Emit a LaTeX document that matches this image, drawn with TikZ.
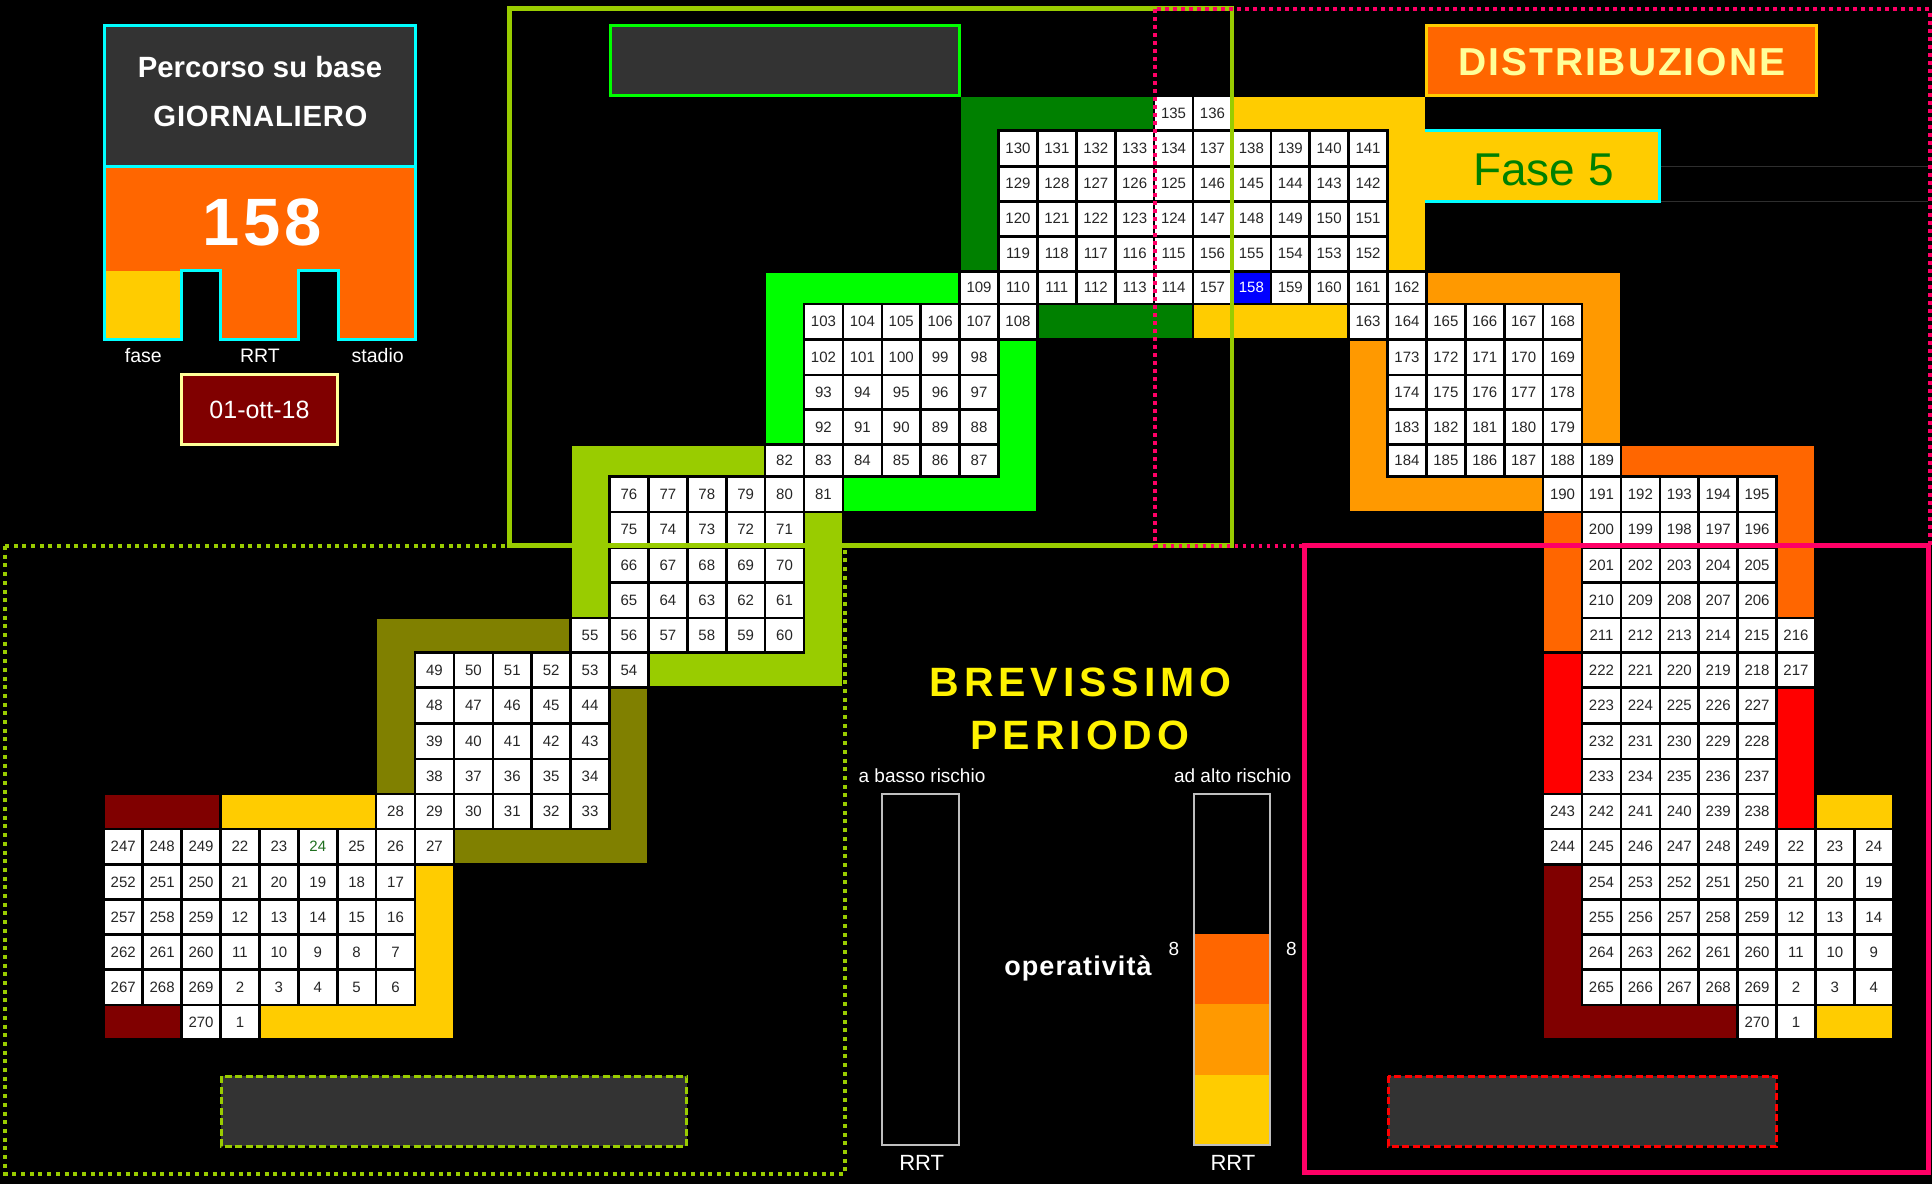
\documentclass[tikz,border=0pt]{standalone}
\usepackage{fontspec}
\setmainfont{Liberation Sans}
\definecolor{cOlive}{HTML}{808000}
\definecolor{cYgreen}{HTML}{99CC00}
\definecolor{cBgreen}{HTML}{00FF00}
\definecolor{cDgreen}{HTML}{008000}
\definecolor{cGold}{HTML}{FFCC00}
\definecolor{cOrng}{HTML}{FF9900}
\definecolor{cDorng}{HTML}{FF6600}
\definecolor{cRed}{HTML}{FF0000}
\definecolor{cDred}{HTML}{800000}
\definecolor{cPink}{HTML}{FF0066}
\definecolor{cDgray}{HTML}{333333}
\definecolor{cCelltxt}{HTML}{262626}
\definecolor{cLyellow}{HTML}{FFFF99}
\definecolor{cBargray}{HTML}{BFBFBF}
\definecolor{cCyan}{HTML}{00FFFF}
\definecolor{cGreenTxt}{HTML}{1F6F1F}
\definecolor{cLine}{HTML}{2E2E2E}
\def\rowarr{{95.8,130.2,166.2,201.2,236.2,271.2,303.8,339.5,374.8,409.5,444.5,476.5,511.8,547.5,582.5,617.8,652.5,687.5,723.5,759,794,829,864.2,899.5,934.5,969.5,1004.8,1039.5}}
\newcommand\gridcell[4]{%
  \pgfmathsetmacro\gxl{103.8+38.9*#1}%
  \pgfmathtruncatemacro\grn{#2+1}%
  \pgfmathsetmacro\gyt{\rowarr[#2]}%
  \pgfmathsetmacro\gyb{\rowarr[\grn]}%
  \pgfmathsetmacro\gxc{\gxl+19.45}%
  \pgfmathsetmacro\gyc{(\gyt+\gyb)/2}%
  \pgfmathsetmacro\ghh{\gyb-\gyt-2.6}%
  \node[cellbox,minimum height=\ghh pt,#4] (n-#1-#2) at (\gxc,\gyc) {#3};%
}
\newcommand\cellrow[3]{%
  \foreach \lab [count=\k from 0] in {#3} {%
    \pgfmathtruncatemacro\ci{#2+\k}%
    \gridcell{\ci}{#1}{\lab}{}%
  }%
}
\newcommand\band[5]{%
  \pgfmathsetmacro\bxa{103.8+38.9*#1+1.3}%
  \pgfmathsetmacro\bxb{103.8+38.9*(#3+1)-1.3}%
  \pgfmathtruncatemacro\brb{#4+1}%
  \pgfmathsetmacro\bya{\rowarr[#2]+1.3}%
  \pgfmathsetmacro\byb{\rowarr[\brb]-1.3}%
  \fill[#5] (\bxa,\bya) rectangle (\bxb,\byb);%
}
\begin{document}
\begin{tikzpicture}[x=1pt,y=-1pt,
  cellbox/.style={fill=white,inner sep=0pt,minimum width=36.3pt,text=cCelltxt,font=\fontsize{15}{15}\selectfont},
  lbl/.style={anchor=base,text=white,inner sep=0pt},
  bar/.style={draw=cBargray,line width=2.6pt},
  dashbox/.style={fill=cDgray,line width=3pt,dash pattern=on 7pt off 3.5pt},
  cyanline/.style={draw=cCyan,line width=3pt}]
\useasboundingbox (0,0) rectangle (1932,1184);
\fill[black] (0,0) rectangle (1932,1184);

% ---------- coloured bands ----------
% olive
\band{7}{15}{11}{15}{cOlive}\band{7}{15}{7}{19}{cOlive}
\band{13}{17}{13}{21}{cOlive}\band{9}{21}{13}{21}{cOlive}
% yellow-green
\band{12}{10}{16}{10}{cYgreen}\band{12}{10}{12}{14}{cYgreen}
\band{18}{12}{18}{16}{cYgreen}\band{14}{16}{18}{16}{cYgreen}
% bright green
\band{17}{5}{21}{5}{cBgreen}\band{17}{5}{17}{9}{cBgreen}
\band{23}{7}{23}{11}{cBgreen}\band{19}{11}{23}{11}{cBgreen}
% dark green
\band{22}{0}{26}{0}{cDgreen}\band{22}{0}{22}{4}{cDgreen}
\band{24}{6}{27}{6}{cDgreen}
% yellow
\band{29}{0}{33}{0}{cGold}\band{33}{0}{33}{4}{cGold}
\band{28}{6}{31}{6}{cGold}
% orange
\band{34}{5}{38}{5}{cOrng}\band{38}{5}{38}{9}{cOrng}
\band{32}{7}{32}{11}{cOrng}\band{32}{11}{36}{11}{cOrng}
% dark orange
\band{39}{10}{43}{10}{cDorng}\band{43}{10}{43}{14}{cDorng}
\band{37}{12}{37}{15}{cDorng}
% red
\band{37}{16}{37}{19}{cRed}\band{43}{17}{43}{20}{cRed}
% dark red
\band{37}{22}{37}{26}{cDred}\band{37}{26}{41}{26}{cDred}
\band{0}{20}{2}{20}{cDred}\band{0}{26}{1}{26}{cDred}
% yellow (1-27)
\band{3}{20}{6}{20}{cGold}\band{8}{22}{8}{26}{cGold}\band{4}{26}{8}{26}{cGold}
\band{44}{20}{45}{20}{cGold}\band{44}{26}{45}{26}{cGold}

% ---------- numbered cells ----------
\cellrow{0}{27}{135,136}
\cellrow{1}{23}{130,131,132,133,134,137,138,139,140,141}
\cellrow{2}{23}{129,128,127,126,125,146,145,144,143,142}
\cellrow{3}{23}{120,121,122,123,124,147,148,149,150,151}
\cellrow{4}{23}{119,118,117,116,115,156,155,154,153,152}
\cellrow{5}{22}{109,110,111,112,113,114,157}
\gridcell{29}{5}{158}{fill=blue,text=white}
\cellrow{5}{30}{159,160,161,162}
\cellrow{6}{18}{103,104,105,106,107,108}
\cellrow{6}{32}{163,164,165,166,167,168}
\cellrow{7}{18}{102,101,100,99,98}
\cellrow{7}{33}{173,172,171,170,169}
\cellrow{8}{18}{93,94,95,96,97}
\cellrow{8}{33}{174,175,176,177,178}
\cellrow{9}{18}{92,91,90,89,88}
\cellrow{9}{33}{183,182,181,180,179}
\cellrow{10}{17}{82,83,84,85,86,87}
\cellrow{10}{33}{184,185,186,187,188,189}
\cellrow{11}{13}{76,77,78,79,80,81}
\cellrow{11}{37}{190,191,192,193,194,195}
\cellrow{12}{13}{75,74,73,72,71}
\cellrow{12}{38}{200,199,198,197,196}
\cellrow{13}{13}{66,67,68,69,70}
\cellrow{13}{38}{201,202,203,204,205}
\cellrow{14}{13}{65,64,63,62,61}
\cellrow{14}{38}{210,209,208,207,206}
\cellrow{15}{12}{55,56,57,58,59,60}
\cellrow{15}{38}{211,212,213,214,215,216}
\cellrow{16}{8}{49,50,51,52,53,54}
\cellrow{16}{38}{222,221,220,219,218,217}
\cellrow{17}{8}{48,47,46,45,44}
\cellrow{17}{38}{223,224,225,226,227}
\cellrow{18}{8}{39,40,41,42,43}
\cellrow{18}{38}{232,231,230,229,228}
\cellrow{19}{8}{38,37,36,35,34}
\cellrow{19}{38}{233,234,235,236,237}
\cellrow{20}{7}{28,29,30,31,32,33}
\cellrow{20}{37}{243,242,241,240,239,238}
\cellrow{21}{0}{247,248,249,22,23}
\gridcell{5}{21}{24}{text=cGreenTxt}
\cellrow{21}{6}{25,26,27}
\cellrow{21}{37}{244,245,246,247,248,249,22,23,24}
\cellrow{22}{0}{252,251,250,21,20,19,18,17}
\cellrow{22}{38}{254,253,252,251,250,21,20,19}
\cellrow{23}{0}{257,258,259,12,13,14,15,16}
\cellrow{23}{38}{255,256,257,258,259,12,13,14}
\cellrow{24}{0}{262,261,260,11,10,9,8,7}
\cellrow{24}{38}{264,263,262,261,260,11,10,9}
\cellrow{25}{0}{267,268,269,2,3,4,5,6}
\cellrow{25}{38}{265,266,267,268,269,2,3,4}
\cellrow{26}{2}{270,1}
\cellrow{26}{42}{270,1}

% ---------- info box (top left) ----------
\fill[cDgray] (104.7,25.3) rectangle (415.5,166.3);
\fill[cDorng] (104.7,166.3) -- (415.5,166.3) -- (415.5,339) -- (338,339) -- (338,270.7) -- (298,270.7) -- (298,339) -- (220.7,339) -- (220.7,270.7) -- (181.3,270.7) -- (181.3,339) -- (104.7,339) -- cycle;
\fill[cGold] (104.7,270.7) rectangle (181.3,339);
\draw[cyanline] (104.7,25.3) -- (415.5,25.3) -- (415.5,339) -- (338,339) -- (338,270.7) -- (298,270.7) -- (298,339) -- (220.7,339) -- (220.7,270.7) -- (181.3,270.7) -- (181.3,339) -- (104.7,339) -- cycle;
\draw[cyanline] (104.7,166.3) -- (415.5,166.3);
\node[lbl,font={\fontsize{29.3}{30}\selectfont\bfseries}] (t-perc) at (260,77.3) {Percorso su base};
\node[lbl,font={\fontsize{29.3}{30}\selectfont\bfseries\addfontfeature{LetterSpace=2.5}}] (t-gior) at (260.5,126) {GIORNALIERO};
\node[lbl,font={\fontsize{67}{67}\selectfont\bfseries\addfontfeature{LetterSpace=6}}] (t-158) at (262,245) {158};
\node[lbl,font=\fontsize{19.5}{20}\selectfont] (t-fase) at (143.3,362.7) {fase};
\node[lbl,font=\fontsize{19.5}{20}\selectfont] (t-rrt) at (260,362.7) {RRT};
\node[lbl,font=\fontsize{19.5}{20}\selectfont] (t-stadio) at (377.7,362.7) {stadio};
\draw[draw=cLyellow,fill=cDred,line width=3pt] (181.7,374.7) rectangle (337.3,444.7);
\node[lbl,font=\fontsize{25}{26}\selectfont] (t-date) at (259.5,418.3) {01-ott-18};

% ---------- top boxes ----------
\draw[draw=cBgreen,fill=cDgray,line width=3pt] (610,25.3) rectangle (959.7,95.5);
\draw[draw=cGold,fill=cDorng,line width=3pt] (1426,25.3) rectangle (1816,95.5);
\node[lbl,text=cLyellow,font={\fontsize{39}{40}\selectfont\bfseries\addfontfeature{LetterSpace=5}}] (t-distr) at (1621.8,75) {DISTRIBUZIONE};
\fill[cGold] (1424.5,130.3) rectangle (1659.5,201.3);
\draw[cyanline] (1424.5,130.3) -- (1659.5,130.3) -- (1659.5,201.3) -- (1424.5,201.3);
\node[lbl,text=cDgreen,font=\fontsize{46}{46}\selectfont] (t-fase5) at (1543.3,185) {Fase 5};
\draw[cLine,line width=1pt] (1661,166.3) -- (1928,166.3);
\draw[cLine,line width=1pt] (1661,201.3) -- (1928,201.3);

% ---------- frames ----------
\draw[cYgreen,line width=4pt,dash pattern=on 4pt off 4.7pt] (5.3,546) rectangle (845,1174);
\draw[cYgreen,line width=4.5pt] (509.6,8.3) rectangle (1232,545.7);
\draw[cPink,line width=4pt,dash pattern=on 3.5pt off 4.5pt] (1155,9.3) rectangle (1929.5,545.7);
\draw[cPink,line width=5pt] (1304.3,545.8) rectangle (1928.7,1172);

% ---------- centre panel ----------
\node[lbl,text=yellow,font={\fontsize{41}{42}\selectfont\bfseries\addfontfeature{LetterSpace=12}}] (t-brev) at (1080.5,696) {BREVISSIMO};
\node[lbl,text=yellow,font={\fontsize{41}{42}\selectfont\bfseries\addfontfeature{LetterSpace=12}}] (t-peri) at (1080,749.3) {PERIODO};
\node[lbl,font=\fontsize{19}{20}\selectfont] (t-basso) at (922,782.7) {a basso rischio};
\node[lbl,font=\fontsize{19}{20}\selectfont] (t-alto) at (1232.7,782.7) {ad alto rischio};
\fill[cDorng] (1195,934) rectangle (1269,1004);
\fill[cOrng] (1195,1004) rectangle (1269,1074.7);
\fill[cGold] (1195,1074.7) rectangle (1269,1144.5);
\draw[bar] (881.9,794) rectangle (958.8,1144.8);
\draw[bar] (1193.9,794) rectangle (1270.1,1144.8);
\node[lbl,font=\fontsize{19}{20}\selectfont] (t-8a) at (1174,955) {8};
\node[lbl,font=\fontsize{19}{20}\selectfont] (t-8b) at (1291.5,955) {8};
\node[lbl,font={\fontsize{27}{28}\selectfont\bfseries\addfontfeature{LetterSpace=4}}] (t-oper) at (1078,975) {operatività};
\node[lbl,font=\fontsize{22}{22}\selectfont] (t-rrt1) at (921.7,1170.7) {RRT};
\node[lbl,font=\fontsize{22}{22}\selectfont] (t-rrt2) at (1233,1170.7) {RRT};

% ---------- dashed boxes ----------
\draw[dashbox,draw=cYgreen] (221,1076) rectangle (686.5,1146);
\draw[dashbox,draw=cRed] (1388,1076) rectangle (1776,1146);
\end{tikzpicture}
\end{document}
